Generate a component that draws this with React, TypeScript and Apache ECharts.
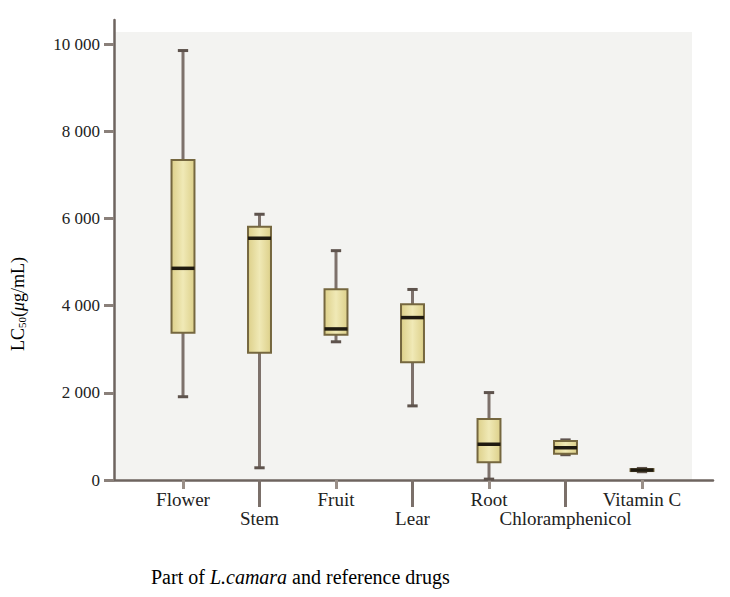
import React, { useEffect, useRef } from "react";
import * as echarts from "echarts";

const categories = ["Flower", "Stem", "Fruit", "Lear", "Root", "Chloramphenicol", "Vitamin C"];
const minVals = [1910, 280, 3170, 1700, 20, 580, 190];
const q1Vals = [3380, 2920, 3330, 2700, 405, 600, 205];
const medianVals = [4855, 5545, 3465, 3725, 820, 740, 228];
const q3Vals = [7340, 5810, 4375, 4030, 1400, 895, 250];
const maxVals = [9850, 6095, 5260, 4370, 2005, 920, 265];
const yMax = 10000;
const yInterval = 2000;
const yAxisName = "LC50(μg/mL)";
const xAxisTitle = ["Part of ", "L.camara", " and reference drugs"];

const FONT = "'Liberation Serif', 'Times New Roman', serif";
const TEXT = "#222222";
const AXIS = "#6e645f";

function fmt(v: number): string {
  return String(v).replace(/\B(?=(\d{3})+(?!\d))/g, " ");
}

export default function App() {
  const ref = useRef<HTMLDivElement>(null);
  useEffect(() => {
    if (!ref.current) return;
    const chart = echarts.init(ref.current, undefined, { renderer: "svg" });
    const data = categories.map((_, i) => [i, minVals[i], q1Vals[i], medianVals[i], q3Vals[i], maxVals[i]]);
    const renderItem = (params: any, api: any) => {
      const x = api.value(0);
      const pMin = api.coord([x, api.value(1)]);
      const pQ1 = api.coord([x, api.value(2)]);
      const pMed = api.coord([x, api.value(3)]);
      const pQ3 = api.coord([x, api.value(4)]);
      const pMax = api.coord([x, api.value(5)]);
      const band = api.size([1, 0])[0];
      const bw = band * 0.3;
      const cw = bw * 0.45;
      const cx = pMed[0];
      return {
        type: "group",
        children: [
          { type: "line", shape: { x1: cx, y1: pMin[1], x2: cx, y2: pMax[1] }, style: { stroke: "#7d716b", lineWidth: 3 } },
          { type: "line", shape: { x1: cx - cw / 2, y1: pMin[1], x2: cx + cw / 2, y2: pMin[1] }, style: { stroke: "#5e534d", lineWidth: 3 } },
          { type: "line", shape: { x1: cx - cw / 2, y1: pMax[1], x2: cx + cw / 2, y2: pMax[1] }, style: { stroke: "#5e534d", lineWidth: 3 } },
          {
            type: "rect",
            shape: { x: cx - bw / 2, y: pQ3[1], width: bw, height: pQ1[1] - pQ3[1] },
            style: {
              fill: new echarts.graphic.LinearGradient(0, 0, 1, 0, [
                { offset: 0, color: "#ddd08a" },
                { offset: 0.5, color: "#f0e9b6" },
                { offset: 1, color: "#ddd08a" },
              ]),
              stroke: "#75673f",
              lineWidth: 2,
            },
          },
          { type: "line", shape: { x1: cx - bw / 2, y1: pMed[1], x2: cx + bw / 2, y2: pMed[1] }, style: { stroke: "#1f1a10", lineWidth: 3.5 } },
        ],
      };
    };
    const hidden = { show: false };
    const option: any = {
      animation: false,
      backgroundColor: "#ffffff",
      grid: [
        { left: 114, top: 20, right: 17, bottom: 117 },
        { left: 114, top: 32, right: 38, bottom: 117, show: true, backgroundColor: "#f3f3f1", borderWidth: 0 },
        { left: 114, top: 44, right: 17, bottom: 117 },
        { left: 144.75, width: 535.5, top: 44, bottom: 117 },
      ],
      xAxis: [
        {
          gridIndex: 0, type: "value", min: 0, max: 1,
          axisLine: { show: true, onZero: false, lineStyle: { color: AXIS, width: 2.5 } },
          axisTick: hidden, axisLabel: hidden, splitLine: hidden,
        },
        { gridIndex: 1, type: "value", show: false },
        { gridIndex: 2, type: "value", show: false },
        {
          gridIndex: 3, type: "category", data: categories, position: "bottom", boundaryGap: true,
          axisLine: hidden,
          axisTick: { show: true, alignWithLabel: true, length: 9, interval: (i: number) => i % 2 === 0, lineStyle: { color: "#9a8f88", width: 3 } },
          axisLabel: { interval: (i: number) => i % 2 === 0, margin: 10, fontFamily: FONT, fontSize: 19, color: TEXT },
          splitLine: hidden,
        },
        {
          gridIndex: 3, type: "category", data: categories, position: "bottom", boundaryGap: true,
          axisLine: hidden,
          axisTick: { show: true, alignWithLabel: true, length: 27, interval: (i: number) => i % 2 === 1, lineStyle: { color: "#7b706a", width: 3 } },
          axisLabel: { interval: (i: number) => i % 2 === 1, margin: 29, fontFamily: FONT, fontSize: 19, color: TEXT },
          splitLine: hidden,
        },
      ],
      yAxis: [
        {
          gridIndex: 0, type: "value", min: 0, max: 1,
          axisLine: { show: true, onZero: false, lineStyle: { color: AXIS, width: 2.5 } },
          axisTick: hidden, axisLabel: hidden, splitLine: hidden,
        },
        { gridIndex: 1, type: "value", show: false },
        {
          gridIndex: 2, type: "value", min: 0, max: yMax, interval: yInterval,
          axisLine: hidden,
          axisTick: { show: true, length: 10, lineStyle: { color: "#8a807a", width: 3 } },
          axisLabel: { margin: 14, fontFamily: FONT, fontSize: 17, color: TEXT, formatter: (v: number) => fmt(v) },
          splitLine: hidden,
        },
        { gridIndex: 3, type: "value", min: 0, max: yMax, show: false },
      ],
      series: [
        {
          type: "custom",
          xAxisIndex: 3,
          yAxisIndex: 3,
          renderItem,
          encode: { x: 0, y: [1, 2, 3, 4, 5] },
          data,
          z: 5,
        },
      ],
      graphic: [
        {
          type: "text",
          x: 18,
          y: 304,
          rotation: Math.PI / 2,
          style: {
            text: "{a|" + yAxisName.slice(0, 2) + "}{s|" + yAxisName.slice(2, 4) + "}{a|(}{i|" + yAxisName.slice(5, 6) + "}{a|" + yAxisName.slice(6) + "}",
            align: "center",
            verticalAlign: "middle",
            rich: {
              a: { fontFamily: FONT, fontSize: 18, color: TEXT, lineHeight: 20 },
              i: { fontFamily: FONT, fontSize: 18, fontStyle: "italic", color: TEXT, lineHeight: 20 },
              s: { fontFamily: FONT, fontSize: 11, color: TEXT, lineHeight: 20, padding: [8, 0, 0, 0] },
            },
          },
        },
        {
          type: "text",
          x: 151,
          y: 577,
          style: {
            text: "{a|" + xAxisTitle[0] + "}{i|" + xAxisTitle[1] + "}{a|" + xAxisTitle[2] + "}",
            align: "left",
            verticalAlign: "middle",
            rich: {
              a: { fontFamily: FONT, fontSize: 20, color: TEXT },
              i: { fontFamily: FONT, fontSize: 20, fontStyle: "italic", color: TEXT },
            },
          },
        },
      ],
    };
    chart.setOption(option);
    return () => chart.dispose();
  }, []);
  return <div ref={ref} style={{ width: 730, height: 597, position: "absolute", left: 0, top: 0 }} />;
}
